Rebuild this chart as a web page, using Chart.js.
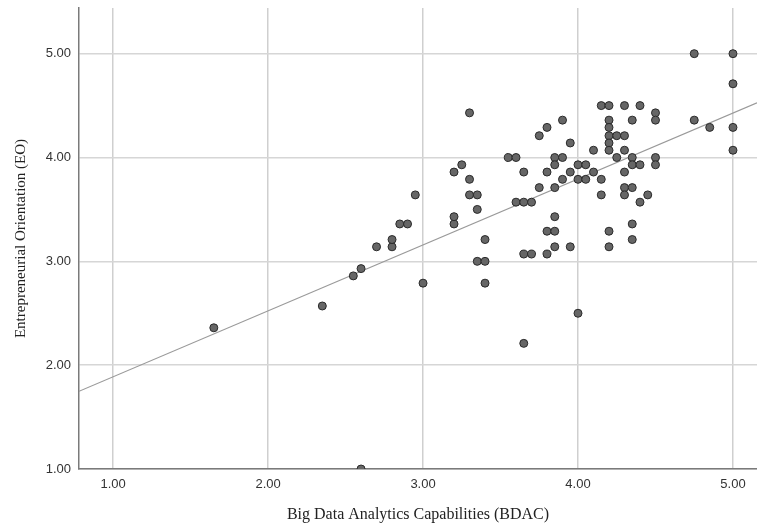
<!DOCTYPE html>
<html>
<head>
<meta charset="utf-8">
<script src="https://cdn.jsdelivr.net/npm/chart.js"></script>
<style>
  html, body { margin: 0; padding: 0; background: #fff; }
  #wrap { width: 757px; height: 524px; }
</style>
</head>
<body>
<div id="wrap"><canvas id="chart"></canvas></div>
<script>
// BDAC (x) and EO (y) per respondent
const bdac = [
  1.65, 2.35, 2.55, 2.60, 2.60, 2.70, 2.80, 2.80, 2.85, 2.90,
  2.95, 3.00, 3.20, 3.20, 3.20, 3.25, 3.30, 3.30, 3.30, 3.35,
  3.35, 3.35, 3.40, 3.40, 3.40, 3.55, 3.60, 3.60, 3.65, 3.70,
  3.65, 3.65, 3.70, 3.65, 3.75, 3.75, 3.80, 3.80, 3.80, 3.80,
  3.85, 3.85, 3.85, 3.85, 3.85, 3.85, 3.90, 3.90, 3.90, 3.95,
  3.95, 3.95, 4.00, 4.00, 4.00, 4.05, 4.05, 4.10, 4.10, 4.15,
  4.15, 4.15, 4.20, 4.20, 4.20, 4.20, 4.20, 4.20, 4.20, 4.20,
  4.25, 4.25, 4.30, 4.30, 4.30, 4.30, 4.30, 4.30, 4.35, 4.35,
  4.35, 4.35, 4.35, 4.35, 4.40, 4.40, 4.40, 4.45, 4.50, 4.50,
  4.50, 4.50, 4.75, 4.75, 4.85, 5.00, 5.00, 5.00, 5.00
]
const eo = [
  2.36, 2.57, 2.86, 2.93, 1.00, 3.14, 3.14, 3.21, 3.36, 3.36,
  3.64, 2.79, 3.36, 3.43, 3.86, 3.93, 3.79, 3.64, 4.43, 3.64,
  3.50, 3.00, 3.00, 3.21, 2.79, 4.00, 4.00, 3.57, 3.57, 3.57,
  3.86, 3.07, 3.07, 2.21, 4.21, 3.71, 4.29, 3.86, 3.29, 3.07,
  4.00, 3.93, 3.71, 3.43, 3.29, 3.14, 4.36, 4.00, 3.79, 4.14,
  3.86, 3.14, 3.93, 3.79, 2.50, 3.93, 3.79, 4.07, 3.86, 4.50,
  3.79, 3.64, 4.50, 4.36, 4.29, 4.21, 4.14, 4.07, 3.29, 3.14,
  4.21, 4.00, 4.50, 4.21, 4.07, 3.86, 3.71, 3.64, 4.36, 4.00,
  3.93, 3.71, 3.36, 3.21, 4.50, 3.93, 3.57, 3.64, 4.43, 4.36,
  4.00, 3.93, 5.00, 4.36, 4.29, 5.00, 4.71, 4.29, 4.07
]

const xTicks = [1, 2, 3, 4, 5]
const yTicks = [1, 2, 3, 4, 5]
const xRange = [0.78, 5.155]
const yRange = [1.0, 5.44]

// fit line as drawn in the picture (some points overlap, so it can't be re-derived exactly)
const fitIntercept = 1.253
const fitSlope = 0.635

const points = bdac.map((x, i) => ({ x: x, y: eo[i] }))
const fitPoints = xRange.map(x => ({ x: x, y: fitIntercept + fitSlope * x }))

const tickFont = { family: 'Liberation Sans', size: 13 }

new Chart(document.getElementById('chart'), {
  type: 'scatter',
  data: {
    datasets: [
      {
        data: points,
        pointRadius: 4,
        pointBackgroundColor: '#666666',
        pointBorderColor: '#2a2a2a',
        pointBorderWidth: 1,
        order: 1
      },
      {
        type: 'line',
        data: fitPoints,
        borderColor: '#9a9a9a',
        borderWidth: 1.2,
        pointRadius: 0,
        fill: false,
        order: 2
      }
    ]
  },
  options: {
    responsive: true,
    maintainAspectRatio: false,
    animation: false,
    layout: { autoPadding: false, padding: { top: 8, right: 0, left: 0, bottom: 0 } },
    plugins: {
      legend: { display: false },
      tooltip: { enabled: false }
    },
    scales: {
      x: {
        type: 'linear',
        min: xRange[0],
        max: xRange[1],
        afterBuildTicks: (scale) => { scale.ticks = xTicks.map(v => ({ value: v })) },
        afterFit: (scale) => {
          scale.height = 55
          scale.paddingLeft = 0
          scale.paddingRight = 0
        },
        grid: { color: '#cfcfcf', lineWidth: 1.5, drawTicks: false },
        border: { color: '#7a7a7a', width: 1.5 },
        ticks: {
          font: tickFont,
          color: '#333',
          padding: 8,
          maxRotation: 0,
          callback: (v) => Number(v).toFixed(2)
        },
        title: {
          display: true,
          text: 'Big Data Analytics Capabilities (BDAC)',
          font: { family: 'Liberation Serif', size: 16 },
          color: '#222',
          padding: { top: 9, bottom: 0 }
        }
      },
      y: {
        type: 'linear',
        min: yRange[0],
        max: yRange[1],
        afterBuildTicks: (scale) => { scale.ticks = yTicks.map(v => ({ value: v })) },
        afterFit: (scale) => {
          scale.width = 79
          scale.paddingTop = 0
          scale.paddingBottom = 0
        },
        grid: { color: '#d6d6d6', lineWidth: 1.5, drawTicks: false },
        border: { color: '#7a7a7a', width: 1.5 },
        ticks: {
          font: tickFont,
          color: '#333',
          padding: 8,
          callback: (v) => Number(v).toFixed(2)
        },
        title: {
          display: true,
          text: 'Entrepreneurial Orientation (EO)',
          font: { family: 'Liberation Serif', size: 15 },
          color: '#222',
          padding: { top: 12, bottom: 0 }
        }
      }
    }
  }
})
</script>
</body>
</html>
